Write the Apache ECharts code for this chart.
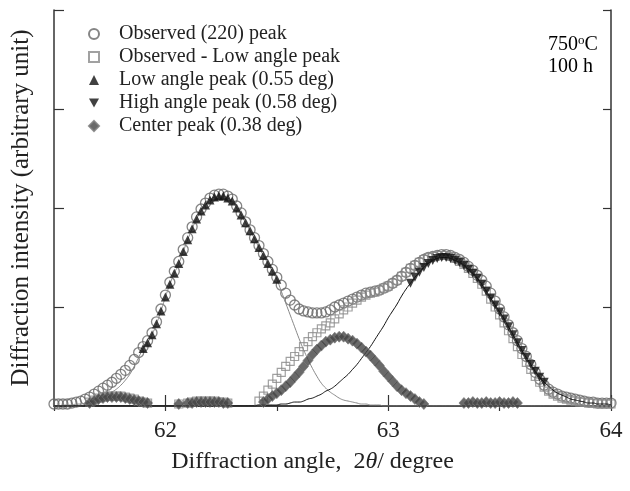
<!DOCTYPE html>
<html>
<head>
<meta charset="utf-8">
<script src="https://cdn.jsdelivr.net/npm/echarts@6/dist/echarts.min.js"></script>
<style>
  html, body { margin: 0; padding: 0; background: #fff; }
  #main { width: 630px; height: 491px; }
</style>
</head>
<body>
<div id="main"></div>
<script>
// sampling of the scan, 2theta in degree
var xStart = 61.5;
var xStep = 0.02;

var xTickLabels = [62, 63, 64];

// Observed (220) peak
var observed = [
  0.02, 0.02, 0.02, 0.02, 0.03, 0.04, 0.05, 0.07, 0.09, 0.12,
  0.15, 0.18, 0.21, 0.24, 0.28, 0.32, 0.36, 0.41, 0.47, 0.54,
  0.60, 0.66, 0.74, 0.85, 0.98, 1.12, 1.25, 1.36, 1.46, 1.58,
  1.70, 1.81, 1.91, 1.99, 2.05, 2.10, 2.13, 2.14, 2.14, 2.12,
  2.09, 2.02, 1.95, 1.86, 1.78, 1.70, 1.62, 1.54, 1.46, 1.38,
  1.30, 1.22, 1.14, 1.07, 1.02, 0.98, 0.96, 0.95, 0.94, 0.94,
  0.94, 0.95, 0.97, 1.00, 1.02, 1.04, 1.06, 1.08, 1.10, 1.12,
  1.14, 1.15, 1.16, 1.17, 1.19, 1.21, 1.24, 1.27, 1.31, 1.35,
  1.39, 1.42, 1.45, 1.48, 1.50, 1.51, 1.52, 1.53, 1.53, 1.52,
  1.50, 1.48, 1.45, 1.41, 1.37, 1.32, 1.27, 1.21, 1.14, 1.06,
  0.98, 0.90, 0.82, 0.74, 0.66, 0.58, 0.50, 0.42, 0.34, 0.27,
  0.21, 0.17, 0.14, 0.12, 0.10, 0.09, 0.08, 0.07, 0.06, 0.05,
  0.04, 0.04, 0.03, 0.03, 0.03, 0.03
];

// Observed - Low angle peak
var obsMinusLow = [
  null, null, null, null, null, null, null, null, 0.04, 0.06,
  0.08, 0.09, 0.10, 0.10, 0.10, 0.10, 0.09, 0.08, 0.07, 0.05,
  0.04, 0.03, null, null, null, null, null, null, 0.02, null,
  0.03, 0.04, 0.05, 0.05, 0.05, 0.05, 0.05, 0.04, 0.04, 0.03,
  null, null, null, null, null, null, 0.05, 0.10, 0.16, 0.22,
  0.28, 0.34, 0.40, 0.45, 0.50, 0.55, 0.60, 0.65, 0.70, 0.74,
  0.78, 0.81, 0.84, 0.88, 0.93, 0.97, 1.00, 1.04, 1.07, 1.10,
  1.12, 1.14, 1.15, 1.17, 1.19, 1.21, 1.24, 1.27, 1.31, 1.35,
  1.39, 1.42, 1.45, 1.48, 1.50, 1.51, 1.52, 1.52, 1.52, 1.51,
  1.49, 1.46, 1.43, 1.39, 1.34, 1.29, 1.23, 1.16, 1.08, 1.00,
  0.92, 0.84, 0.76, 0.68, 0.60, 0.52, 0.44, 0.37, 0.30, 0.24,
  0.19, 0.15, 0.12, 0.10, 0.08, 0.07, 0.06, 0.05, 0.04, 0.04,
  0.03, 0.03, 0.02, 0.02, 0.02, 0.02
];

// Low angle peak fit (0.55 deg)
var lowFit = [
  0.00, 0.00, 0.01, 0.01, 0.01, 0.02, 0.02, 0.03, 0.04, 0.05,
  0.07, 0.09, 0.11, 0.14, 0.17, 0.21, 0.26, 0.32, 0.40, 0.49,
  0.58, 0.64, 0.72, 0.83, 0.96, 1.10, 1.23, 1.34, 1.44, 1.56,
  1.68, 1.79, 1.89, 1.97, 2.03, 2.08, 2.11, 2.12, 2.12, 2.10,
  2.07, 2.00, 1.93, 1.85, 1.77, 1.69, 1.60, 1.52, 1.44, 1.36,
  1.28, 1.16, 1.04, 0.92, 0.80, 0.68, 0.57, 0.47, 0.38, 0.30,
  0.23, 0.18, 0.14, 0.11, 0.08, 0.06, 0.05, 0.04, 0.03, 0.02,
  0.02, 0.01, 0.01, 0.01, 0.00, 0.00, 0.00, 0.00, 0.00, 0.00,
  0.00, 0.00, 0.00, 0.00, 0.00, 0.00, 0.00, 0.00, 0.00, 0.00,
  0.00, 0.00, 0.00, 0.00, 0.00, 0.00, 0.00, 0.00, 0.00, 0.00,
  0.00, 0.00, 0.00, 0.00, 0.00, 0.00, 0.00, 0.00, 0.00, 0.00,
  0.00, 0.00, 0.00, 0.00, 0.00, 0.00, 0.00, 0.00, 0.00, 0.00,
  0.00, 0.00, 0.00, 0.00, 0.00, 0.00
];

// High angle peak fit (0.58 deg)
var highFit = [
  0.00, 0.00, 0.00, 0.00, 0.00, 0.00, 0.00, 0.00, 0.00, 0.00,
  0.00, 0.00, 0.00, 0.00, 0.00, 0.00, 0.00, 0.00, 0.00, 0.00,
  0.00, 0.00, 0.00, 0.00, 0.00, 0.00, 0.00, 0.00, 0.00, 0.00,
  0.00, 0.00, 0.00, 0.00, 0.00, 0.00, 0.00, 0.00, 0.00, 0.00,
  0.00, 0.00, 0.00, 0.00, 0.00, 0.00, 0.01, 0.01, 0.01, 0.01,
  0.01, 0.02, 0.02, 0.03, 0.04, 0.04, 0.05, 0.07, 0.08, 0.10,
  0.12, 0.15, 0.17, 0.20, 0.24, 0.28, 0.32, 0.37, 0.42, 0.48,
  0.54, 0.60, 0.67, 0.74, 0.81, 0.89, 0.96, 1.03, 1.11, 1.18,
  1.24, 1.30, 1.35, 1.40, 1.44, 1.47, 1.49, 1.50, 1.50, 1.49,
  1.47, 1.45, 1.42, 1.38, 1.34, 1.29, 1.23, 1.16, 1.09, 1.02,
  0.95, 0.88, 0.80, 0.72, 0.64, 0.56, 0.49, 0.42, 0.35, 0.29,
  0.24, 0.20, 0.16, 0.13, 0.11, 0.09, 0.07, 0.06, 0.05, 0.04,
  0.03, 0.03, 0.02, 0.02, 0.02, 0.01
];

// Center peak (0.38 deg)
var centerPeak = [
  null, null, null, null, null, null, null, null, 0.03, 0.05,
  0.07, 0.08, 0.09, 0.09, 0.09, 0.09, 0.08, 0.07, 0.06, 0.05,
  0.04, 0.03, null, null, null, null, null, null, 0.02, null,
  0.03, 0.03, 0.04, 0.04, 0.04, 0.04, 0.04, 0.04, 0.03, 0.03,
  null, null, null, null, null, null, null, 0.04, 0.07, 0.10,
  0.13, 0.16, 0.20, 0.24, 0.29, 0.34, 0.40, 0.46, 0.52, 0.57,
  0.61, 0.65, 0.67, 0.69, 0.70, 0.70, 0.68, 0.66, 0.63, 0.59,
  0.55, 0.51, 0.46, 0.41, 0.35, 0.30, 0.25, 0.20, 0.16, 0.13,
  0.10, 0.07, 0.04, 0.02, null, null, null, null, null, null,
  null, null, 0.03, 0.03, 0.04, 0.03, 0.03, 0.04, 0.03, 0.03,
  0.04, 0.03, 0.03, 0.04, 0.03, null, null, null, null, null,
  null, null, null, null, null, null, null, null, null, null,
  null, null, null, null, null, null
];

// marker ranges of the two fitted peaks
var lowMarkRange = [61.9, 62.5];
var highMarkRange = [63.1, 63.7];

var angles = observed.map(function (v, i) {
  return +(xStart + i * xStep).toFixed(2);
});

function pts(ys, lo, hi) {
  var out = [];
  for (var i = 0; i < angles.length; i++) {
    if (ys[i] === null) continue;
    if (lo !== undefined && (angles[i] < lo - 1e-6 || angles[i] > hi + 1e-6)) continue;
    out.push([angles[i], ys[i]]);
  }
  return out;
}

var serif = '"Liberation Serif", "DejaVu Serif", serif';
var frame = { show: true, lineStyle: { color: '#333', width: 1.5 } };
var downTri = 'path://M0,0L10,0L5,9Z';

var chart = echarts.init(document.getElementById('main'));

var option = {
  backgroundColor: '#fff',
  animation: false,
  grid: { left: 54, right: 19, top: 10, bottom: 85 },
  legend: {
    orient: 'vertical',
    left: 88,
    top: 24,
    padding: 0,
    itemWidth: 10,
    itemHeight: 10,
    itemGap: 3,
    textStyle: { fontFamily: serif, fontSize: 20, color: '#222', padding: [0, 0, 0, 15] },
    data: [
      'Observed (220) peak',
      'Observed - Low angle peak',
      'Low angle peak (0.55 deg)',
      'High angle peak (0.58 deg)',
      'Center peak (0.38 deg)'
    ]
  },
  graphic: [{
    type: 'text',
    left: 548,
    top: 34,
    style: {
      text: '{n|750}{s|o}{n|C}\n{n|100 h}',
      rich: {
        n: { fontFamily: serif, fontSize: 20, color: '#222', lineHeight: 22 },
        s: { fontFamily: serif, fontSize: 13, color: '#222', verticalAlign: 'top', lineHeight: 22, padding: [0, 0, 9, 0] }
      }
    }
  }],
  xAxis: [{
    type: 'value',
    min: 61.5,
    max: 64,
    interval: 0.5,
    position: 'bottom',
    axisLine: frame,
    splitLine: { show: false },
    axisTick: { show: true, inside: true, length: 11, lineStyle: { color: '#333', width: 1.2 }, customValues: xTickLabels },
    axisLabel: { customValues: xTickLabels, fontFamily: serif, fontSize: 23, color: '#222', margin: 13 },
    name: '{a|Diffraction angle,  2}{i|θ}{a|/ degree}',
    nameLocation: 'middle',
    nameGap: 44,
    nameTextStyle: {
      padding: [0, 40, 0, 0],
      rich: {
        a: { fontFamily: serif, fontSize: 24, color: '#222' },
        i: { fontFamily: serif, fontSize: 24, color: '#222', fontStyle: 'italic' }
      }
    }
  }, {
    type: 'value',
    min: 61.5,
    max: 64,
    interval: 0.5,
    position: 'top',
    axisLine: frame,
    splitLine: { show: false },
    axisTick: { show: true, inside: true, length: 5, lineStyle: { color: '#333', width: 1.2 } },
    axisLabel: { show: false }
  }],
  yAxis: [{
    type: 'value',
    min: 0,
    max: 4,
    interval: 1,
    position: 'left',
    axisLine: frame,
    splitLine: { show: false },
    axisTick: { show: true, inside: true, length: 10, lineStyle: { color: '#333', width: 1.2 } },
    axisLabel: { show: false },
    name: 'Diffraction intensity (arbitrary unit)',
    nameLocation: 'middle',
    nameGap: 20,
    nameTextStyle: { fontFamily: serif, fontSize: 25, color: '#222' }
  }, {
    type: 'value',
    min: 0,
    max: 4,
    interval: 1,
    position: 'right',
    axisLine: frame,
    splitLine: { show: false },
    axisTick: { show: true, inside: true, length: 8, lineStyle: { color: '#333', width: 1.2 } },
    axisLabel: { show: false }
  }],
  series: [{
    name: 'Observed (220) peak',
    type: 'scatter',
    symbol: 'circle',
    symbolSize: 10,
    itemStyle: { color: 'rgba(255,255,255,0)', borderColor: '#666', borderWidth: 1.3 },
    data: pts(observed),
    z: 2
  }, {
    name: 'Observed - Low angle peak',
    type: 'scatter',
    symbol: 'rect',
    symbolSize: 8,
    itemStyle: { color: 'rgba(255,255,255,0)', borderColor: '#8a8a8a', borderWidth: 1.2 },
    data: pts(obsMinusLow),
    z: 3
  }, {
    name: 'low fit',
    type: 'line',
    showSymbol: false,
    smooth: true,
    lineStyle: { color: '#888', width: 1 },
    data: pts(lowFit),
    z: 4
  }, {
    name: 'high fit',
    type: 'line',
    showSymbol: false,
    smooth: true,
    lineStyle: { color: '#111', width: 1 },
    data: pts(highFit),
    z: 4
  }, {
    name: 'Low angle peak (0.55 deg)',
    type: 'scatter',
    symbol: 'triangle',
    symbolSize: 9,
    itemStyle: { color: '#111' },
    data: pts(lowFit, lowMarkRange[0], lowMarkRange[1]),
    z: 5
  }, {
    name: 'High angle peak (0.58 deg)',
    type: 'scatter',
    symbol: downTri,
    symbolSize: 9,
    itemStyle: { color: '#111' },
    data: pts(highFit, highMarkRange[0], highMarkRange[1]),
    z: 5
  }, {
    name: 'Center peak (0.38 deg)',
    type: 'scatter',
    symbol: 'diamond',
    symbolSize: [10, 11],
    itemStyle: { color: '#444', borderColor: '#777', borderWidth: 0.8 },
    data: pts(centerPeak),
    z: 6
  }]
};

chart.setOption(option);
</script>
</body>
</html>
